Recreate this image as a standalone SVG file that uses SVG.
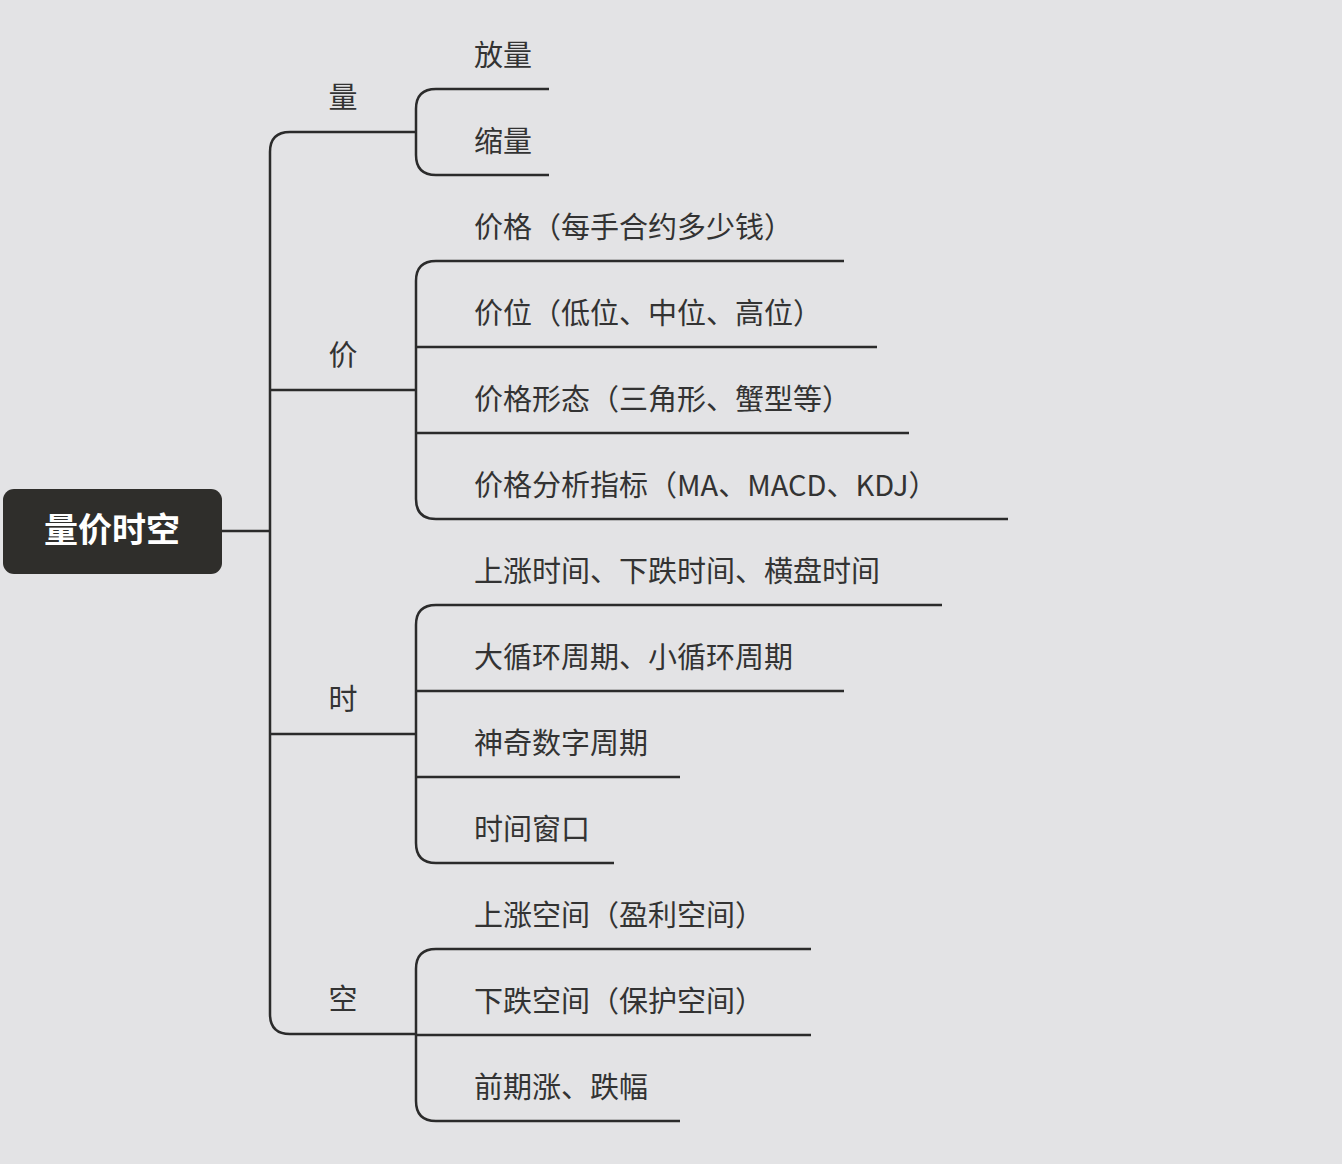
<svg xmlns="http://www.w3.org/2000/svg" width="1342" height="1164" viewBox="0 0 1342 1164">
<style>
.c{fill:none;stroke:#2b2b2b;stroke-width:2.5}
.t{font-family:"Noto Sans CJK SC","Noto Sans",sans-serif;font-size:29px;fill:#333}
.r{font-family:"Noto Sans CJK SC","Noto Sans",sans-serif;font-size:34px;font-weight:bold;fill:#fff}
</style>
<rect width="1342" height="1164" fill="#e3e3e5"/>
<g id="connectors">
<path class="c" d="M222 531H270"/>
<path class="c" d="M416 132H290Q270 132 270 152V1014Q270 1034 290 1034H416M270 390H416M270 734H416"/>
<path class="c" d="M549 89H436Q416 89 416 109V155Q416 175 436 175H549"/>
<path class="c" d="M844 261H436Q416 261 416 281V499Q416 519 436 519H1008M416 347H877M416 433H909"/>
<path class="c" d="M942 605H436Q416 605 416 625V843Q416 863 436 863H614M416 691H844M416 777H680"/>
<path class="c" d="M811 949H436Q416 949 416 969V1101Q416 1121 436 1121H680M416 1035H811"/>
</g>
<g id="root"><rect x="3" y="489" width="219" height="85" rx="11" fill="#2f2e2b"/><text class="r" x="112" y="542" text-anchor="middle">量价时空</text></g>
<g id="n1"><text class="t" x="343" y="108" text-anchor="middle">量</text></g>
<g id="n2"><text class="t" x="343" y="366" text-anchor="middle">价</text></g>
<g id="n3"><text class="t" x="343" y="710" text-anchor="middle">时</text></g>
<g id="n4"><text class="t" x="343" y="1010" text-anchor="middle">空</text></g>
<g id="a1"><text class="t" x="474" y="66">放量</text></g>
<g id="a2"><text class="t" x="474" y="152">缩量</text></g>
<g id="b1"><text class="t" x="474" y="238">价格（每手合约多少钱）</text></g>
<g id="b2"><text class="t" x="474" y="324">价位（低位、中位、高位）</text></g>
<g id="b3"><text class="t" x="474" y="410">价格形态（三角形、蟹型等）</text></g>
<g id="b4"><text class="t" x="474" y="496">价格分析指标（MA、MACD、KDJ）</text></g>
<g id="c1"><text class="t" x="474" y="582">上涨时间、下跌时间、横盘时间</text></g>
<g id="c2"><text class="t" x="474" y="668">大循环周期、小循环周期</text></g>
<g id="c3"><text class="t" x="474" y="754">神奇数字周期</text></g>
<g id="c4"><text class="t" x="474" y="840">时间窗口</text></g>
<g id="d1"><text class="t" x="474" y="926">上涨空间（盈利空间）</text></g>
<g id="d2"><text class="t" x="474" y="1012">下跌空间（保护空间）</text></g>
<g id="d3"><text class="t" x="474" y="1098">前期涨、跌幅</text></g>
</svg>
